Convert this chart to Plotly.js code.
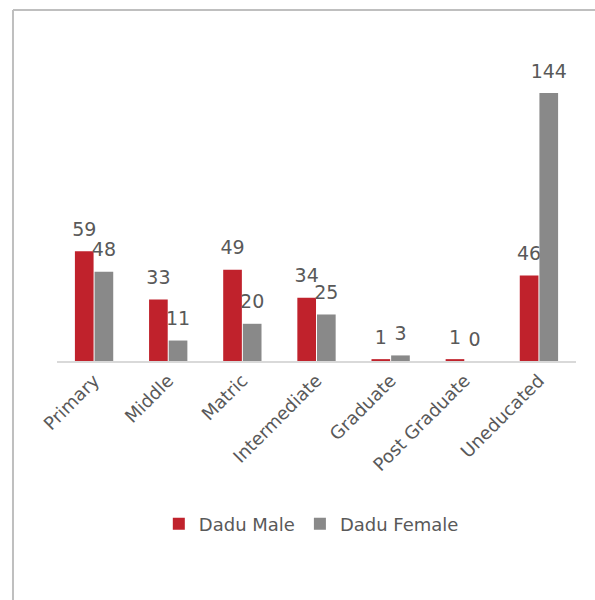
<!DOCTYPE html>
<html>
<head>
<meta charset="utf-8">
<script src="https://cdn.plot.ly/plotly-3.0.1.min.js"></script>
<style>
  html, body { margin: 0; padding: 0; background: #fff; }
  #chart { width: 595px; height: 600px; }
</style>
</head>
<body>
<div id="chart"></div>
<script>
const categories = ["Primary", "Middle", "Matric", "Intermediate", "Graduate", "Post Graduate", "Uneducated"];
const maleValues = [59, 33, 49, 34, 1, 1, 46];
const femaleValues = [48, 11, 20, 25, 3, 0, 144];
const seriesNames = ["Dadu Male", "Dadu Female"];

const textColor = "#595959";
const fontFamily = "'DejaVu Sans', sans-serif";

function barTrace(name, values, color) {
  return {
    type: "bar",
    name: name,
    x: categories,
    y: values,
    marker: { color: color },
    text: values.map(String),
    texttemplate: "<span style='font-size:19px'>%{text}</span><br>\u00a0",
    textposition: "outside",
    constraintext: "none",
    textfont: { size: 8, color: textColor, family: fontFamily },
    cliponaxis: false
  };
}

const traces = [
  barTrace(seriesNames[0], maleValues, "#C0222C"),
  barTrace(seriesNames[1], femaleValues, "#898989")
];

const layout = {
  width: 595,
  height: 600,
  margin: { l: 57, r: 19, t: 54, b: 239 },
  paper_bgcolor: "#ffffff",
  plot_bgcolor: "#ffffff",
  barmode: "group",
  bargap: 0.47,
  bargroupgap: 0.05,
  font: { family: fontFamily, color: textColor, size: 18 },
  xaxis: {
    type: "category",
    tickangle: -45,
    showline: true,
    linecolor: "#d9d9d9",
    linewidth: 2,
    ticks: "",
    showgrid: false,
    tickfont: { size: 18, color: textColor, family: fontFamily },
    fixedrange: true
  },
  yaxis: {
    range: [0, 165],
    visible: false,
    showgrid: false,
    zeroline: false,
    fixedrange: true
  },
  showlegend: true,
  legend: {
    orientation: "h",
    x: 0.49,
    xanchor: "center",
    y: -0.531,
    yanchor: "middle",
    font: { size: 18, color: textColor, family: fontFamily },
    itemwidth: 30,
    traceorder: "normal"
  },
  shapes: [
    { type: "line", xref: "paper", yref: "paper", x0: -0.0848, x1: 1.05, y0: 1.143, y1: 1.143,
      line: { color: "#bfbfbf", width: 2 } },
    { type: "line", xref: "paper", yref: "paper", x0: -0.0848, x1: -0.0848, y0: 1.143, y1: -0.78,
      line: { color: "#bfbfbf", width: 2 } }
  ]
};

Plotly.newPlot("chart", traces, layout, { displayModeBar: false, staticPlot: true });
</script>
</body>
</html>
